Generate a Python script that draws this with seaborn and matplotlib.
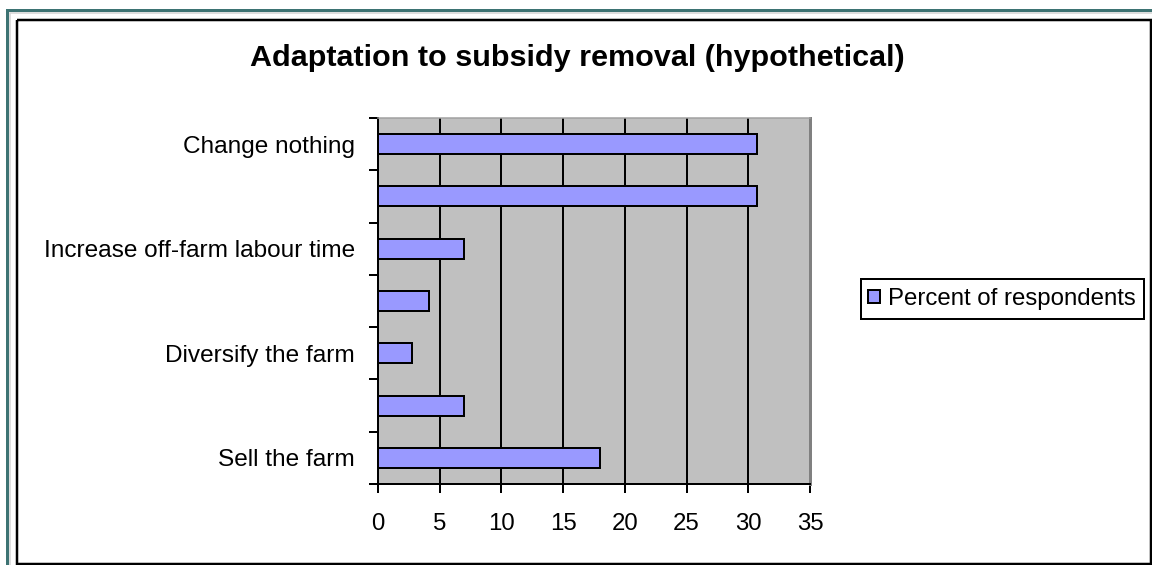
import matplotlib
matplotlib.use("Agg")
import matplotlib.pyplot as plt
from matplotlib.lines import Line2D
from matplotlib.patches import Rectangle
from matplotlib.ticker import FixedLocator, MultipleLocator
import seaborn as sns
import pandas as pd

# Survey responses, listed top to bottom; only every other answer is labelled on the axis
option_rank = [1, 2, 3, 4, 5, 6, 7]
option_labels = ["Change nothing", "", "Increase off-farm labour time", "",
                 "Diversify the farm", "", "Sell the farm"]
percent = [30.7, 30.7, 7.0, 4.1, 2.75, 7.0, 18.0]
series_name = "Percent of respondents"
title = "Adaptation to subsidy removal (hypothetical)"

df = pd.DataFrame({"rank": option_rank, "percent": percent})

W, H = 1152, 565
sns.set_theme(style="white")
plt.rcParams["font.family"] = ["Liberation Sans", "DejaVu Sans"]

fig = plt.figure(figsize=(W / 100, H / 100), dpi=100)
fig.patch.set_facecolor("white")

px = 0.72  # points per pixel at 100 dpi
fs = 24 * px

# plot area
x0, x1, y0, y1 = 378, 810, 118, 484
ax = fig.add_axes([x0 / W, 1 - y1 / H, (x1 - x0) / W, (y1 - y0) / H])
ax.set_facecolor("#C0C0C0")

sns.barplot(data=df, x="percent", y="rank", orient="y", order=option_rank,
            color="#9999FF", saturation=1, edgecolor="black",
            linewidth=2 * px, width=0.38, label=series_name, ax=ax, zorder=3)
if ax.get_legend() is not None:
    ax.get_legend().remove()

ax.set_xlim(0, 35)
ax.set_ylim(len(option_rank) - 0.5, -0.5)
ax.set_xlabel("")
ax.set_ylabel("")

# x axis: ticks every 5 with vertical black gridlines
ax.xaxis.set_major_locator(MultipleLocator(5))
ax.set_axisbelow(True)
ax.grid(axis="x", color="black", linewidth=2 * px, zorder=1)
ax.grid(axis="y", visible=False)
ax.tick_params(axis="x", which="major", direction="out", length=9 * px,
               width=2 * px, color="black", labelsize=fs, pad=20 * px,
               bottom=True, labelcolor="black")

# y axis: tick marks between categories, labels centred on each bar
ax.yaxis.set_major_locator(FixedLocator([k - 0.5 for k in range(len(option_rank) + 1)]))
ax.yaxis.set_major_formatter(plt.NullFormatter())
ax.yaxis.set_minor_locator(FixedLocator(list(range(len(option_rank)))))
ax.set_yticks(list(range(len(option_rank))), option_labels, minor=True)
ax.tick_params(axis="y", which="major", direction="out", length=9 * px,
               width=2 * px, color="black", left=True)
ax.tick_params(axis="y", which="minor", length=0, labelsize=24.4 * px,
               pad=23 * px, labelcolor="black")

for side in ("left", "bottom"):
    ax.spines[side].set_color("black")
    ax.spines[side].set_linewidth(2 * px)
ax.spines["top"].set_color("#A0A0A0")
ax.spines["top"].set_linewidth(1.5 * px)
ax.spines["right"].set_color("#808080")
ax.spines["right"].set_linewidth(3 * px)
for s in ax.spines.values():
    s.set_zorder(4)

# title
fig.text(577 / W, 1 - 58 / H, title, ha="center", va="center",
         fontsize=30.5 * px, fontweight="bold", color="black")

# legend: entries from the axes, with a square black box around them
handles, labels = ax.get_legend_handles_labels()
leg = fig.legend(handles, labels, loc="center left",
                 bbox_to_anchor=(868 / W, 1 - 299 / H), borderaxespad=0,
                 borderpad=0, fontsize=fs, frameon=False,
                 handlelength=0.5, handleheight=0.5, handletextpad=0.35)
for t in leg.get_texts():
    t.set_color("black")
fig.add_artist(Rectangle((861 / W, 1 - 319 / H), (1144 - 861) / W, 40 / H,
                         transform=fig.transFigure, facecolor="none",
                         edgecolor="black", linewidth=2 * px))


def fig_line(xs, ys, color, lw):
    fig.add_artist(Line2D([x / W for x in xs], [1 - y / H for y in ys],
                          transform=fig.transFigure, color=color,
                          linewidth=lw * px, solid_capstyle="butt",
                          solid_joinstyle="miter"))


# outer frames
fig_line([6.5, 6.5, W], [H, 10, 10], "#3D7373", 3)
fig_line([9.5, 9.5, W], [H, 12.5, 12.5], "#D4D4D4", 1.5)
fig_line([17, 17, 1150.5, 1150.5, 17], [20, 563.5, 563.5, 20, 20], "black", 2.5)

fig.savefig("out.png", dpi=100)
